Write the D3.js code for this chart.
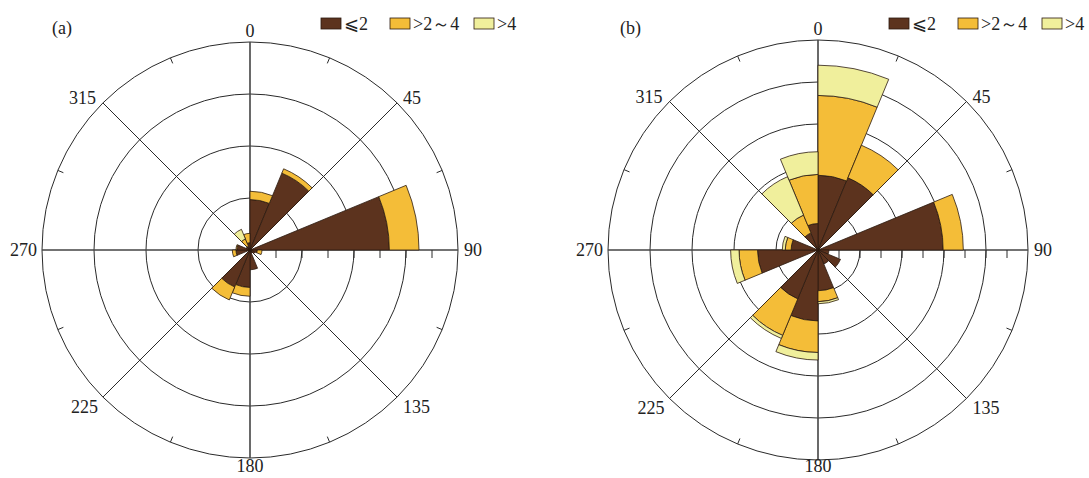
<!DOCTYPE html>
<html>
<head>
<meta charset="utf-8">
<script src="https://cdn.jsdelivr.net/npm/d3@7/dist/d3.min.js"></script>
<style>
  html, body { margin: 0; padding: 0; background: #fff; }
  svg { display: block; }
  text { font-family: "Liberation Serif", "Times New Roman", "DejaVu Serif", serif; fill: #222; }
</style>
</head>
<body>
<svg id="chart" width="1089" height="478"></svg>
<script>
// Wind direction sectors (start angle of each 22.5° sector, clockwise from north)
const directions = [0, 22.5, 45, 67.5, 90, 112.5, 135, 157.5, 180, 202.5, 225, 247.5, 270, 292.5, 315, 337.5];
const speedClasses = ["⩽2", ">2～4", ">4"];
const angleLabels = [0, 45, 90, 135, 180, 225, 270, 315];

// Panel (a): frequency per sector for each wind speed class
const aSlow = [4.85, 8.0, 0, 13.4, 0.7, 0.5, 0.3, 1.9, 3.6, 3.85, 0, 1.35, 1.25, 0.4, 0.4, 0.7];
const aMid  = [0.8, 0.45, 0, 2.85, 0.45, 0, 0, 0, 0.85, 1.35, 0, 0.35, 0.1, 0, 0.75, 0.9];
const aFast = [0, 0, 0, 0, 0, 0, 0, 0, 0, 0, 0, 0, 0, 0, 1.0, 0];

// Panel (b)
const bSlow = [8.9, 9.3, 0, 14.9, 1.3, 2.9, 1.8, 4.85, 8.45, 6.3, 0, 7.2, 3.2, 0, 2.2, 3.15];
const bMid  = [9.5, 4.2, 0, 2.4, 0, 0, 0, 1.3, 3.75, 4.7, 0, 2.2, 0.7, 0, 2.3, 5.85];
const bFast = [3.6, 0, 0, 0, 0, 0, 0, 0.25, 0.9, 0.4, 0, 1.0, 0.35, 0, 4.95, 2.7];

const colors = ["#5c331e", "#f4bd38", "#f0ef9c"];

const panels = [
  { title: "(a)", cx: 250, cy: 250, R: 208, rMax: 20, ringStep: 5, series: [aSlow, aMid, aFast] },
  { title: "(b)", cx: 818, cy: 250, R: 210, rMax: 25, ringStep: 5, series: [bSlow, bMid, bFast] }
];

const svg = d3.select("#chart");
const rad = d => d * Math.PI / 180;
const sectorWidth = 22.5;

panels.forEach(p => {
  const g = svg.append("g").attr("transform", `translate(${p.cx},${p.cy})`);
  const r = d3.scaleLinear().domain([0, p.rMax]).range([0, p.R]);
  const ringValues = d3.range(p.ringStep, p.rMax + 0.001, p.ringStep);
  const minorValues = d3.range(p.ringStep / 2, p.rMax - 0.001, p.ringStep / 2);

  // concentric rings
  g.append("g").selectAll("circle").data(ringValues).join("circle")
    .attr("r", d => r(d)).attr("fill", "none")
    .attr("stroke", "#2a2a2a").attr("stroke-width", 1);

  // radial spokes every 45°
  g.append("g").selectAll("line").data(angleLabels).join("line")
    .attr("x1", 0).attr("y1", 0)
    .attr("x2", d => r(p.rMax) * Math.sin(rad(d)))
    .attr("y2", d => -r(p.rMax) * Math.cos(rad(d)))
    .attr("stroke", d => d % 90 === 0 ? "#444" : "#2a2a2a")
    .attr("stroke-width", d => d % 90 === 0 ? 1.6 : 1);

  // minor ticks along the 90° axis
  g.append("g").selectAll("line").data(minorValues).join("line")
    .attr("x1", d => r(d)).attr("x2", d => r(d))
    .attr("y1", 0).attr("y2", 8)
    .attr("stroke", "#2a2a2a").attr("stroke-width", 1);

  // inward ticks on the outer circle between spokes
  g.append("g").selectAll("line").data(angleLabels.map(a => a + 22.5)).join("line")
    .attr("x1", d => r(p.rMax) * Math.sin(rad(d)))
    .attr("y1", d => -r(p.rMax) * Math.cos(rad(d)))
    .attr("x2", d => (r(p.rMax) - 6) * Math.sin(rad(d)))
    .attr("y2", d => -(r(p.rMax) - 6) * Math.cos(rad(d)))
    .attr("stroke", "#2a2a2a").attr("stroke-width", 1);

  // stacked sectors
  const rows = directions.map((dir, i) => ({ dir, s0: p.series[0][i], s1: p.series[1][i], s2: p.series[2][i] }));
  const stacked = d3.stack().keys(["s0", "s1", "s2"])(rows);
  const arc = d3.arc()
    .innerRadius(d => r(d[0]))
    .outerRadius(d => r(d[1]))
    .startAngle(d => rad(d.data.dir))
    .endAngle(d => rad(d.data.dir + sectorWidth));

  stacked.forEach((layer, li) => {
    g.append("g").selectAll("path")
      .data(layer.filter(d => d[1] - d[0] > 0))
      .join("path")
      .attr("d", arc)
      .attr("fill", colors[li])
      .attr("stroke", "#2b1a10")
      .attr("stroke-width", 0.8);
  });

  // direction labels
  const Rout = r(p.rMax);
  const labelPos = {
    0:   { x: 0, y: -Rout - 5, anchor: "middle" },
    45:  { x: Rout * Math.SQRT1_2 + 6, y: -Rout * Math.SQRT1_2 + 1, anchor: "start" },
    90:  { x: Rout + 6, y: 6, anchor: "start" },
    135: { x: Rout * Math.SQRT1_2 + 6, y: Rout * Math.SQRT1_2 + 16, anchor: "start" },
    180: { x: 0, y: 472 - p.cy, anchor: "middle" },
    225: { x: -Rout * Math.SQRT1_2 - 5, y: Rout * Math.SQRT1_2 + 16, anchor: "end" },
    270: { x: -Rout - 5, y: 6, anchor: "end" },
    315: { x: -Rout * Math.SQRT1_2 - 7, y: -Rout * Math.SQRT1_2 + 1, anchor: "end" }
  };
  g.append("g").selectAll("text").data(angleLabels).join("text")
    .attr("x", d => labelPos[d].x).attr("y", d => labelPos[d].y)
    .attr("text-anchor", d => labelPos[d].anchor)
    .attr("font-size", 18)
    .text(d => d);

  // panel title
  svg.append("text")
    .attr("x", p.cx - 198).attr("y", p.cy - 216)
    .attr("font-size", 18)
    .text(p.title);

  // legend
  const legend = svg.append("g").attr("transform", `translate(${p.cx + 71},${p.cy - 232})`);
  const offsets = [0, 69, 153];
  speedClasses.forEach((name, i) => {
    const item = legend.append("g").attr("transform", `translate(${offsets[i]},0)`);
    item.append("rect").attr("x", 0).attr("y", 0).attr("width", 20).attr("height", 11)
      .attr("fill", colors[i]).attr("stroke", "#2b1a10").attr("stroke-width", 0.8);
    item.append("text").attr("x", 23).attr("y", 12).attr("font-size", 18).text(name);
  });
});
</script>
</body>
</html>
